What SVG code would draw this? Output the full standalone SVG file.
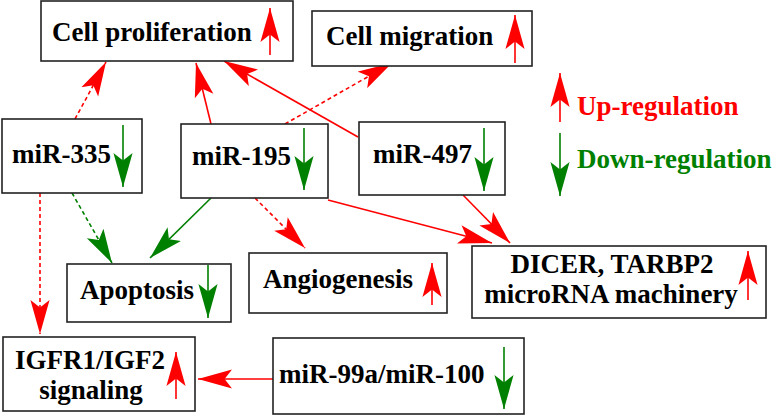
<svg xmlns="http://www.w3.org/2000/svg" width="774" height="416" viewBox="0 0 774 416">
<defs>
<marker id="hr" markerUnits="userSpaceOnUse" markerWidth="34" markerHeight="20" viewBox="0 0 32 18" refX="32" refY="9" orient="auto"><path d="M0,0 L32,9 L0,18 L7,9 Z" fill="#ff0000" stroke="none"/></marker>
<marker id="hg" markerUnits="userSpaceOnUse" markerWidth="34" markerHeight="20" viewBox="0 0 32 18" refX="32" refY="9" orient="auto"><path d="M0,0 L32,9 L0,18 L7,9 Z" fill="#008000" stroke="none"/></marker>
</defs>
<style>
.box{fill:#fff;stroke:#222;stroke-width:1.6}
.t{font-family:"Liberation Serif","Times New Roman",serif;font-weight:bold;font-size:27px;fill:#000}
.r{stroke:#ff0000;stroke-width:1.6;fill:none}
.g{stroke:#008000;stroke-width:1.6;fill:none}
.d{stroke-dasharray:4 3}
.ar{marker-end:url(#hr)}
.ag{marker-end:url(#hg)}
</style>
<rect width="774" height="416" fill="#fff"/>
<g id="connectors">
<line class="r d ar" x1="75" y1="119" x2="106" y2="62"/>
<line class="r ar" x1="211" y1="124" x2="196" y2="63"/>
<line class="r ar" x1="358" y1="137" x2="224" y2="61"/>
<line class="r d ar" x1="285" y1="124" x2="392" y2="63"/>
<line class="r d ar" x1="255" y1="198" x2="305" y2="248"/>
<line class="r ar" x1="328" y1="200" x2="492" y2="243"/>
<line class="r ar" x1="463" y1="195" x2="510" y2="243"/>
<line class="g d ag" x1="72" y1="193" x2="112" y2="263"/>
<line class="g ag" x1="211" y1="198" x2="150" y2="258"/>
<line class="r d ar" x1="40" y1="193" x2="40" y2="334"/>
<line class="r ar" x1="273" y1="379" x2="198" y2="379"/>
</g>
<g id="cell-proliferation">
<rect class="box" x="41" y="1" width="252" height="60"/>
<text class="t" x="52" y="41">Cell proliferation</text>
<line class="r ar" x1="270" y1="55" x2="270" y2="8"/>
</g>
<g id="cell-migration">
<rect class="box" x="312" y="11" width="220" height="55"/>
<text class="t" x="326" y="45">Cell migration</text>
<line class="r ar" x1="515" y1="63" x2="515" y2="15"/>
</g>
<g id="mir-335">
<rect class="box" x="2" y="119" width="140" height="74"/>
<text class="t" x="12" y="163">miR-335</text>
<line class="g ag" x1="123" y1="125" x2="123" y2="187"/>
</g>
<g id="mir-195">
<rect class="box" x="181" y="124" width="147" height="74"/>
<text class="t" x="192" y="165">miR-195</text>
<line class="g ag" x1="304" y1="128" x2="304" y2="190"/>
</g>
<g id="mir-497">
<rect class="box" x="359" y="122" width="146" height="73"/>
<text class="t" x="373" y="163">miR-497</text>
<line class="g ag" x1="484" y1="128" x2="484" y2="191"/>
</g>
<g id="legend">
<line class="r ar" x1="560" y1="122" x2="560" y2="73"/>
<text class="t" x="577" y="115" style="fill:#ff0000">Up-regulation</text>
<line class="g ag" x1="560" y1="133" x2="560" y2="196"/>
<text class="t" x="577" y="168" style="fill:#008000">Down-regulation</text>
</g>
<g id="apoptosis">
<rect class="box" x="67" y="264" width="164" height="58"/>
<text class="t" x="80" y="299">Apoptosis</text>
<line class="g ag" x1="208" y1="265" x2="208" y2="318"/>
</g>
<g id="angiogenesis">
<rect class="box" x="249" y="253" width="198" height="60"/>
<text class="t" x="263" y="288">Angiogenesis</text>
<line class="r ar" x1="432" y1="305" x2="432" y2="263"/>
</g>
<g id="dicer">
<rect class="box" x="472" y="246" width="294" height="72"/>
<text class="t" x="612" y="273" text-anchor="middle">DICER, TARBP2</text>
<text class="t" x="611" y="303" text-anchor="middle">microRNA machinery</text>
<line class="r ar" x1="748" y1="300" x2="748" y2="251"/>
</g>
<g id="igfr1">
<rect class="box" x="3" y="337" width="192" height="74"/>
<text class="t" x="90" y="369" text-anchor="middle">IGFR1/IGF2</text>
<text class="t" x="91" y="399" text-anchor="middle">signaling</text>
<line class="r ar" x1="176" y1="399" x2="176" y2="352"/>
</g>
<g id="mir-99a">
<rect class="box" x="273" y="338" width="251" height="76"/>
<text class="t" x="279" y="383">miR-99a/miR-100</text>
<line class="g ag" x1="504" y1="347" x2="504" y2="409"/>
</g>
</svg>
